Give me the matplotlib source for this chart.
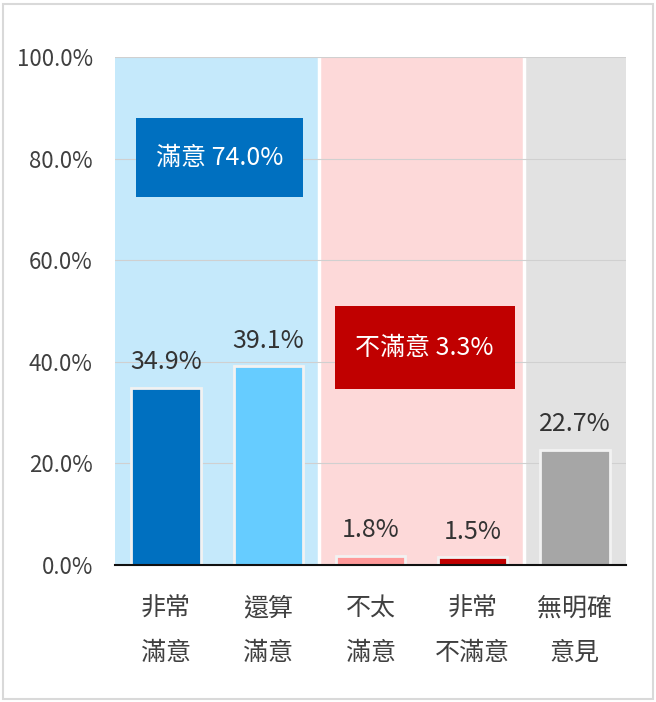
import matplotlib
matplotlib.use('Agg')
import matplotlib.pyplot as plt
from matplotlib.patches import Rectangle

plt.rcParams['font.family'] = ['Noto Sans CJK TC', 'DejaVu Sans']

# data
categories = ['非常\n滿意', '還算\n滿意', '不太\n滿意', '非常\n不滿意', '無明確\n意見']
values = [34.9, 39.1, 1.8, 1.5, 22.7]
bar_colors = ['#0070C0', '#66CCFF', '#FF9999', '#C00000', '#A6A6A6']
group_labels = ['滿意 74.0%', '不滿意 3.3%']
group_spans = [(0, 1), (2, 3), (4, 4)]
band_colors = ['#C5E9FB', '#FDD9D9', '#E2E2E2']
box_colors = ['#0070C0', '#C00000']
yticks = [0, 20, 40, 60, 80, 100]

fig = plt.figure(figsize=(6.56, 7.02), dpi=100)
fig.patches.append(Rectangle((0.005, 0.004), 0.99, 0.991, transform=fig.transFigure,
                             fill=False, edgecolor='#D9D9D9', linewidth=1.5))
ax = fig.add_axes([0.1753, 0.1952, 0.779, 0.7236])

# background bands
for (i0, i1), bg in zip(group_spans, band_colors):
    ax.axvspan(i0 - 0.5, i1 + 0.5, color=bg, zorder=0, lw=0)
for xb in [1.5, 3.5]:
    ax.axvline(xb, color='white', lw=2.5, zorder=1)

for t in yticks[1:]:
    ax.axhline(t, color='#D0D0D0', lw=0.8, zorder=1)

x = range(len(categories))
ax.bar(x, values, width=0.68, color=bar_colors, edgecolor='#F2F2F2', linewidth=2, zorder=2)
for xi, v in zip(x, values):
    ax.text(xi, v + 2.5, f'{v:.1f}%', ha='center', va='bottom', fontsize=18,
            color='#333333', zorder=3)

# group summary boxes
boxes = [(-0.295, 72.4, 1.635, 15.6), (1.65, 34.6, 1.76, 16.4)]
for (bx, by, bw, bh), lab, c in zip(boxes, group_labels, box_colors):
    ax.add_patch(Rectangle((bx, by), bw, bh, facecolor=c, edgecolor='none', zorder=4))
    ax.text(bx + bw / 2, by + bh / 2, lab, ha='center', va='center', fontsize=18,
            color='white', zorder=5)

ax.set_xlim(-0.5, 4.5)
ax.set_ylim(0, 100)
ax.set_yticks(yticks)
ax.set_yticklabels([f'{t:.1f}%' for t in yticks], fontsize=16, color='#404040')
ax.set_xticks(list(x))
ax.set_xticklabels(categories, fontsize=18, color='#404040', linespacing=1.9)
ax.tick_params(axis='both', length=0)
ax.tick_params(axis='x', pad=22)
ax.tick_params(axis='y', pad=16)
for s in ['top', 'right', 'left']:
    ax.spines[s].set_visible(False)
ax.spines['bottom'].set_color('#111111')
ax.spines['bottom'].set_linewidth(1.5)
ax.spines['bottom'].set_zorder(6)

fig.savefig('out.png', dpi=100)
